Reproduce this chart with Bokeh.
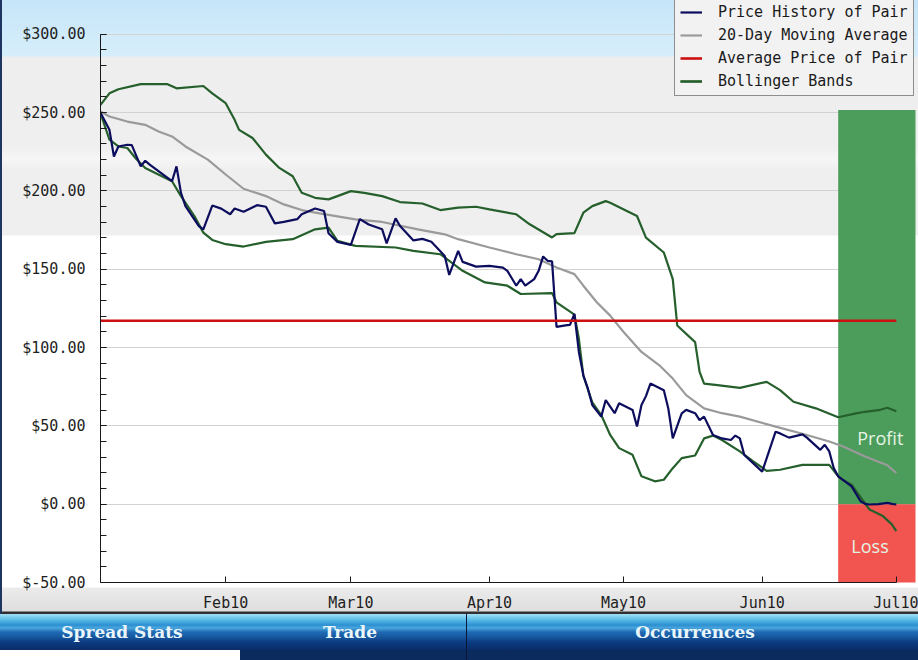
import pandas as pd
from bokeh.plotting import figure
from bokeh.models import (Range1d, SingleIntervalTicker, MonthsTicker, DatetimeTickFormatter,
                          PrintfTickFormatter, Legend, LegendItem, Div)
from bokeh.layouts import column
from bokeh.core.properties import value
from bokeh.embed import file_html
from bokeh.resources import INLINE

# ---------------- data ----------------
price_dates = ["2010-01-04","2010-01-06","2010-01-07","2010-01-08","2010-01-10","2010-01-11","2010-01-13","2010-01-14","2010-01-15","2010-01-20","2010-01-21","2010-01-22","2010-01-23","2010-01-26","2010-01-27","2010-01-29","2010-01-31",
               "2010-02-02","2010-02-03","2010-02-05","2010-02-08","2010-02-10","2010-02-12","2010-02-14","2010-02-17","2010-02-18","2010-02-21","2010-02-23","2010-02-24","2010-02-26",
               "2010-03-01","2010-03-03","2010-03-05","2010-03-08","2010-03-09","2010-03-11","2010-03-12","2010-03-15","2010-03-17","2010-03-19","2010-03-22","2010-03-23","2010-03-25","2010-03-26","2010-03-29",
               "2010-04-01","2010-04-04","2010-04-05","2010-04-07","2010-04-08","2010-04-09","2010-04-11","2010-04-12","2010-04-13","2010-04-14","2010-04-15","2010-04-16","2010-04-18","2010-04-19","2010-04-20","2010-04-21","2010-04-22","2010-04-23","2010-04-24","2010-04-26","2010-04-27","2010-04-29","2010-04-30",
               "2010-05-03","2010-05-04","2010-05-05","2010-05-06","2010-05-07","2010-05-10","2010-05-11","2010-05-12","2010-05-14","2010-05-15","2010-05-17","2010-05-18","2010-05-19","2010-05-21","2010-05-23","2010-05-25","2010-05-26","2010-05-27","2010-05-28",
               "2010-06-01","2010-06-04","2010-06-05","2010-06-07","2010-06-10","2010-06-11","2010-06-14","2010-06-15","2010-06-16","2010-06-17","2010-06-18","2010-06-21","2010-06-23","2010-06-24","2010-06-25","2010-06-27","2010-06-29","2010-06-30",
               "2010-07-01"]
price_values = [250,239,222,228.4,229.5,229.3,215.7,219.3,216.8,206.2,215.7,198.8,190.3,177.6,175.5,190.7,188.7,
                185.1,188.8,186.7,190.9,189.9,179.3,180.3,182.0,185.1,188.8,187.2,173.0,167.5,
                165.6,182.0,178.6,175.5,166.5,182.5,177.6,168.4,169.4,167.6,158.5,146.4,161.7,154.7,151.7,
                152.2,151.1,149.0,139.5,143.7,139.5,143.7,149.0,158.2,155.4,155.0,113.2,114.2,114.5,121.5,97.2,82.3,73.9,63.3,55.9,66.5,58.1,64.4,
                60.2,49.6,63.3,69.0,77.0,72.7,61.1,42.0,58.0,60.2,58.1,53.7,55.9,44.2,42.0,41.0,43.8,42.0,31.4,
                20.8,46.3,45.2,42.5,44.6,42.5,34.7,37.9,33.7,23.1,17.8,11.4,1.9,0.2,-0.2,0.0,0.8,0.2,
                -0.2]

upper_dates = ["2010-01-04","2010-01-06","2010-01-08","2010-01-13","2010-01-19","2010-01-21","2010-01-27","2010-01-29",
               "2010-02-01","2010-02-03","2010-02-04","2010-02-07","2010-02-10","2010-02-13","2010-02-16","2010-02-18","2010-02-21","2010-02-24","2010-02-26",
               "2010-03-01","2010-03-04","2010-03-08","2010-03-12","2010-03-17","2010-03-21","2010-03-25","2010-03-29",
               "2010-04-01","2010-04-07","2010-04-10","2010-04-15","2010-04-16","2010-04-20","2010-04-22","2010-04-24","2010-04-27","2010-04-28",
               "2010-05-04","2010-05-06","2010-05-10","2010-05-12","2010-05-13","2010-05-17","2010-05-18","2010-05-19","2010-05-22","2010-05-27",
               "2010-06-02","2010-06-05","2010-06-08","2010-06-13","2010-06-18","2010-06-22","2010-06-24","2010-06-27","2010-06-29","2010-07-01"]
upper_values = [255,262.3,264.9,268.2,268.2,265.5,267,262.3,
                256,245.4,239,233.8,223.2,214.7,209.4,198.8,195.6,194.6,196.7,
                199.9,198.8,196.7,192.9,192,187.8,189.3,189.9,
                188.2,185.1,178.7,170.3,172.4,173.1,186.1,190.3,193.5,192.5,
                184,170.2,160.7,143.7,114.1,103.5,84.5,77,76,74.3,
                78.1,72.8,65.4,61.2,55.5,58,59,60,61.6,59.4]

lower_dates = ["2010-01-04","2010-01-06","2010-01-08","2010-01-10","2010-01-12","2010-01-14","2010-01-20","2010-01-22","2010-01-25","2010-01-27","2010-01-29",
               "2010-02-01","2010-02-05","2010-02-10","2010-02-16","2010-02-21","2010-02-24","2010-02-26",
               "2010-03-02","2010-03-11","2010-03-15","2010-03-21","2010-03-26","2010-03-31",
               "2010-04-05","2010-04-08","2010-04-15","2010-04-16","2010-04-20","2010-04-21","2010-04-22","2010-04-24","2010-04-26","2010-04-28","2010-04-30",
               "2010-05-03","2010-05-05","2010-05-08","2010-05-10","2010-05-12","2010-05-14","2010-05-17","2010-05-19","2010-05-21","2010-05-23","2010-05-27","2010-05-30",
               "2010-06-02","2010-06-05","2010-06-10","2010-06-16","2010-06-18","2010-06-19","2010-06-21","2010-06-23","2010-06-25","2010-06-28","2010-06-30","2010-07-01"]
lower_values = [249.6,232.7,228.4,227.4,220.4,214.7,206.2,196.7,184,173.4,168.7,
                166,164.5,167.5,169.2,175.5,176.6,168.1,
                164.9,163.9,161.7,159.6,149,141.6,
                139.5,134.2,134.8,128.9,121,105.6,82,65,56.9,44.2,35.8,
                31.5,17.8,14.6,15.6,23,29.4,31.1,42,43.8,41,33.7,27.3,
                21.3,22,25.1,25.1,17.8,15.6,12.5,4.5,-3.4,-7.6,-12.9,-17.2]

ma_dates = ["2010-01-04","2010-01-06","2010-01-10","2010-01-14","2010-01-17","2010-01-20","2010-01-23","2010-01-28",
            "2010-02-01","2010-02-05","2010-02-10","2010-02-14","2010-02-18","2010-02-22",
            "2010-03-02","2010-03-08","2010-03-16","2010-03-22","2010-03-25",
            "2010-04-01","2010-04-07","2010-04-12","2010-04-16","2010-04-20","2010-04-22","2010-04-25","2010-04-28",
            "2010-05-01","2010-05-05","2010-05-09","2010-05-12","2010-05-15","2010-05-19","2010-05-23","2010-05-27",
            "2010-06-04","2010-06-10","2010-06-16","2010-06-19","2010-06-24","2010-06-29","2010-07-01"]
ma_values = [250.7,247.5,244.3,242.2,237.9,234.8,228.4,220,
             210.5,201.4,196.7,191.4,187.8,185.7,
             181.9,180.2,175.5,172.3,169.2,
             163.9,159.6,156.4,151.1,146.9,139.5,128.9,120.4,
             109.9,97.2,88.7,80.2,69.6,61.2,58.1,55.9,
             49.5,45,40,37,30.5,24.8,19.9]

average_price = 117.1

zone_start = "2010-06-18"
zone_end = "2010-07-06"
profit_top = 251.7
zone_split = 0.0
loss_bottom = -53.0
zone_labels = ["Profit", "Loss"]
zone_label_dates = ["2010-06-27 10:00", "2010-06-25 03:00"]
zone_label_values = [42.0, -27.0]

series_names = ["Price History of Pair", "20-Day Moving Average", "Average Price of Pair", "Bollinger Bands"]
tab_labels = ["Spread Stats", "Trade", "Occurrences"]

y_min, y_max = -50, 300

# ---------------- figure ----------------
to_dt = pd.to_datetime
x_start = to_dt(price_dates[0])
x_last = to_dt(price_dates[-1])

# frame runs to the top edge so the legend (drawn inside the frame) can sit there;
# the axis itself is bounded to -50..300
p = figure(width=918, height=614, x_axis_type="datetime",
           x_range=Range1d(x_start, to_dt("2010-07-05 07:00")),
           y_range=Range1d(y_min, y_max + 34 / 1.5743),
           output_backend="svg", toolbar_location=None,
           min_border_left=100, min_border_right=3, min_border_top=0, min_border_bottom=29,
           background_fill_alpha=0, border_fill_alpha=0, outline_line_color=None)

p.styles = {
    "background": "linear-gradient(to right, #1d3560 0px, #1d3560 2px, transparent 2px), "
                  "linear-gradient(to bottom, #c6e5f8 0px, #d6eefb 56px, #eeeeee 57px, #efefef 148px, "
                  "#f6f6f6 158px, #efefef 170px, #efefef 235px, #ffffff 236px, #ffffff 587px, "
                  "#ebebeb 588px, #dedede 611px, #303030 612px, #303030 614px)"
}

# profit / loss zones
p.quad(left=[to_dt(zone_start)], right=[to_dt(zone_end)], bottom=[zone_split], top=[profit_top],
       fill_color="#4c9d5b", line_color=None)
p.quad(left=[to_dt(zone_start)], right=[to_dt(zone_end)], bottom=[loss_bottom], top=[zone_split],
       fill_color="#f2554f", line_color=None)

band_color = "#255f2b"
r_up = p.line(to_dt(upper_dates), upper_values, line_color=band_color, line_width=2.2)
r_lo = p.line(to_dt(lower_dates), lower_values, line_color=band_color, line_width=2.2)
r_ma = p.line(to_dt(ma_dates), ma_values, line_color="#9a9a9a", line_width=2.2)
r_pr = p.line(to_dt(price_dates), price_values, line_color="#0d0d5e", line_width=2.2)
r_avg = p.line([x_start, x_last], [average_price, average_price], line_color="#cc1010", line_width=2.6)

p.text(x=to_dt(zone_label_dates), y=zone_label_values, text=zone_labels,
       text_font=value("Open Sans"), text_font_size="18px", text_color="#e4f4e4",
       text_align="center", text_baseline="middle")

# axes
p.yaxis.ticker = SingleIntervalTicker(interval=50, num_minor_ticks=5)
p.ygrid.ticker = SingleIntervalTicker(interval=50)
p.yaxis.formatter = PrintfTickFormatter(format="$%.2f")
p.yaxis.bounds = (y_min, y_max)
p.xaxis.ticker = MonthsTicker(months=list(range(12)))
p.xaxis.formatter = DatetimeTickFormatter(months="%b%y", days="%b%y")
p.xaxis.bounds = (x_start, x_last)
p.xgrid.visible = False
p.ygrid.grid_line_color = "#d2d2d2"
p.ygrid.grid_line_width = 1

for ax in (p.xaxis[0], p.yaxis[0]):
    ax.axis_line_color = "#1a1a1a"
    ax.axis_line_width = 1
    ax.major_tick_in = 6
    ax.major_tick_out = 0
    ax.major_tick_line_color = "#1a1a1a"
    ax.major_label_text_font = "DejaVu Sans Mono"
    ax.major_label_text_font_size = "15px"
    ax.major_label_text_color = "#1e1e1e"
p.yaxis.minor_tick_in = 6
p.yaxis.minor_tick_out = 0
p.yaxis.minor_tick_line_color = "#1a1a1a"
p.yaxis.major_label_standoff = 15
p.xaxis.minor_tick_in = 0
p.xaxis.minor_tick_out = 0
p.xaxis.major_label_standoff = 11

legend = Legend(items=[LegendItem(label=series_names[0], renderers=[r_pr]),
                       LegendItem(label=series_names[1], renderers=[r_ma]),
                       LegendItem(label=series_names[2], renderers=[r_avg]),
                       LegendItem(label=series_names[3], renderers=[r_up, r_lo])],
                location=(574, 486), orientation="vertical",
                label_text_font="DejaVu Sans Mono", label_text_font_size="15px",
                label_text_color="#1a1a1a",
                glyph_width=22, glyph_height=18, label_height=18, spacing=5,
                padding=5, margin=0, label_standoff=16,
                border_line_color="#2a2a2a", border_line_width=1.5,
                background_fill_color="#f2f2f2", background_fill_alpha=1)
p.add_layout(legend)

# ---------------- tab bar ----------------
bar_grad = ("linear-gradient(to bottom, #a4e0f4 0px, #62c2ea 5px, #2c8fd2 11px, #4aa6dc 14px, "
            "#1f6ab5 18px, #17589f 23px, #0d3c82 28px, #0a2c68 36px)")
tab_html = (
    '<div style="position:relative;width:918px;height:46px;overflow:hidden;">'
    f'<div style="position:absolute;left:0;top:0;width:918px;height:36px;background:{bar_grad};"></div>'
    '<div style="position:absolute;left:0;top:36px;width:240px;height:10px;background:#ffffff;"></div>'
    '<div style="position:absolute;left:240px;top:36px;width:678px;height:10px;background:#0b2a5e;"></div>'
    '<div style="position:absolute;left:466px;top:0;width:1px;height:46px;background:#0a1838;"></div>'
)
centers = [122, 350, 695]
for lab, cx in zip(tab_labels, centers):
    tab_html += (f'<div style="position:absolute;left:{cx-120}px;top:8px;width:240px;height:20px;'
                 "line-height:20px;text-align:center;font-family:'DejaVu Serif';font-weight:bold;"
                 f'font-size:17px;color:#e9f6fb;">{lab}</div>')
tab_html += '</div>'

tabs = Div(text=tab_html, width=918, height=46, margin=0)

layout = column(p, tabs, spacing=0)
open("out.html", "w").write(file_html(layout, INLINE))
